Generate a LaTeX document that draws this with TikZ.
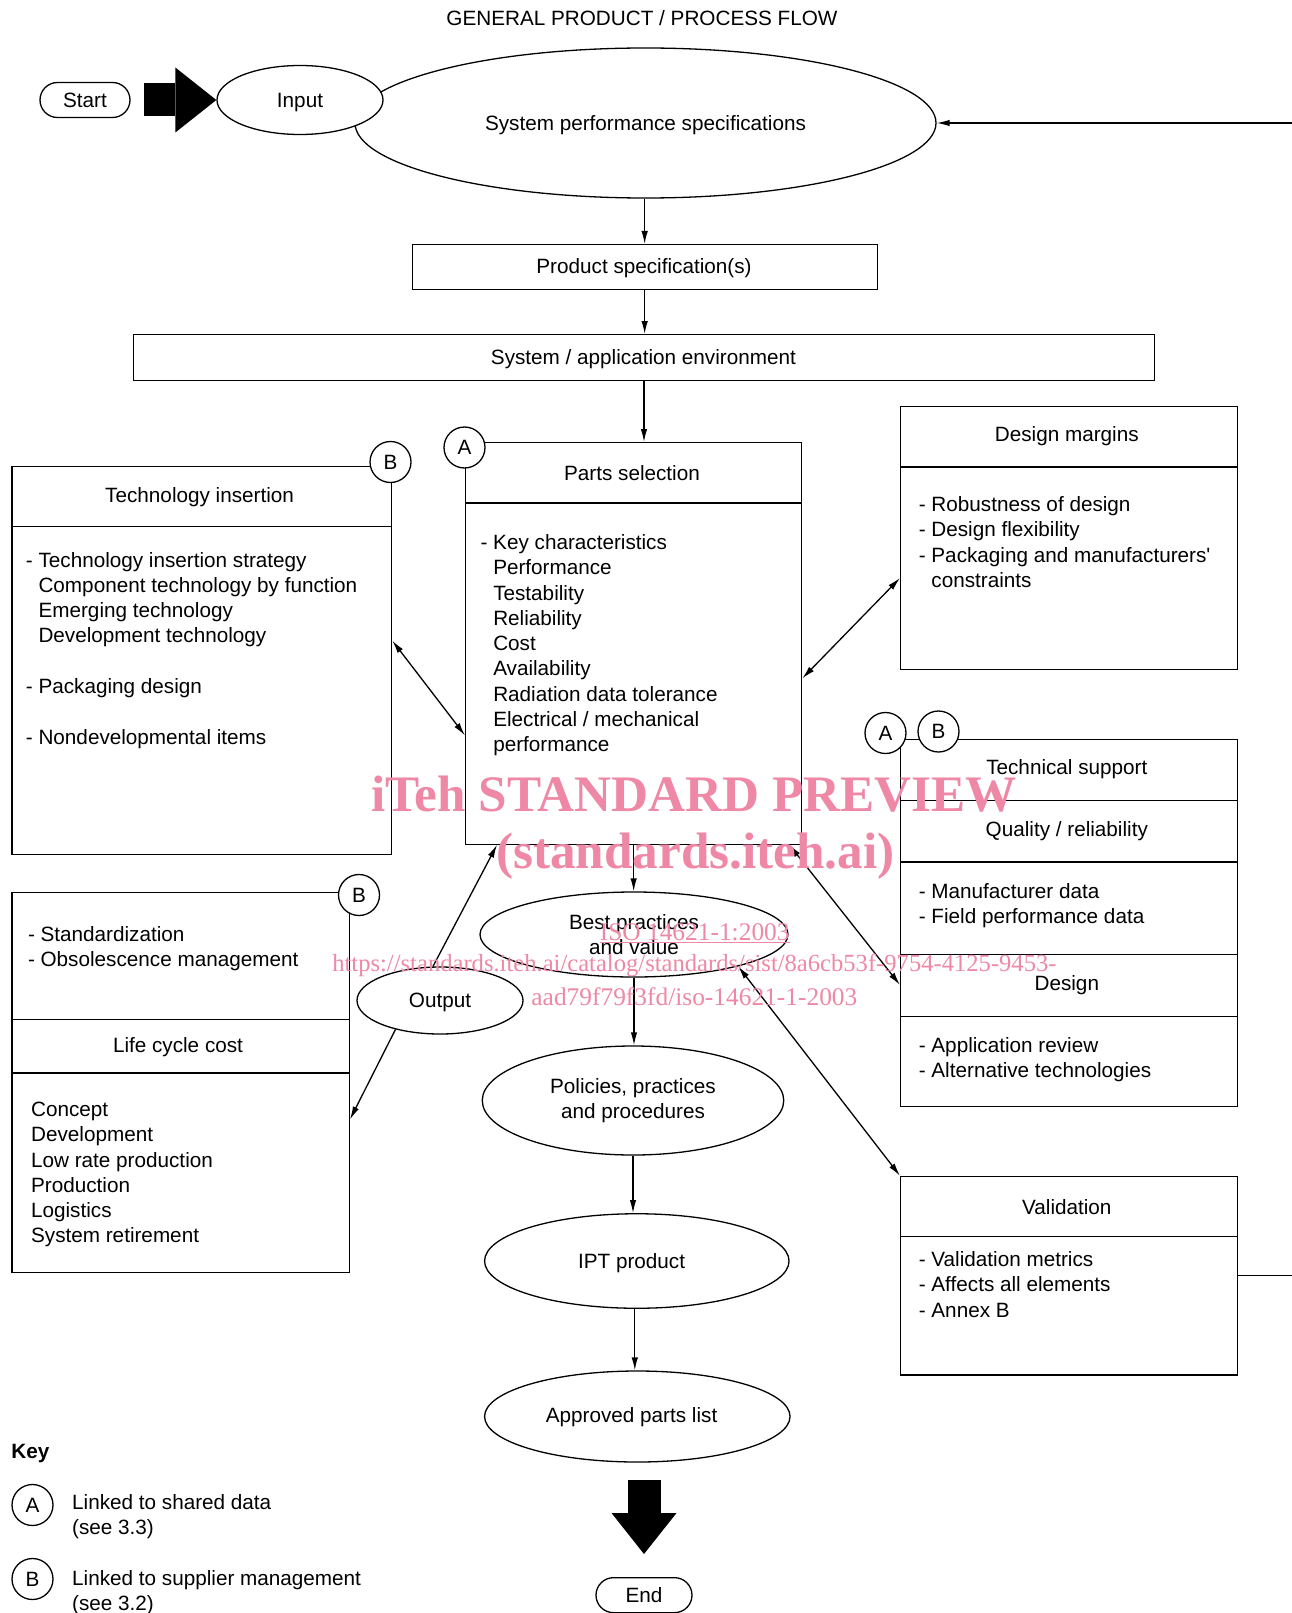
\documentclass[tikz,border=0pt]{standalone}
\usepackage{fontspec}
\setmainfont{Liberation Sans}
\newfontfamily\wmfont{Liberation Serif}
\usetikzlibrary{arrows.meta,shapes.geometric,calc}
\definecolor{wmpink}{RGB}{238,136,166}
\newcommand\myind{\hphantom{-\ }}
\newcommand\txtlines[4]{%
  \foreach \t [count=\i] in {#4} {\node[anchor=base west, inner sep=0pt] (#1\i) at (#2, #3+25.3*\i-25.3) {\t};}}
\begin{document}
\begin{tikzpicture}[x=1pt,y=-1pt,
  font=\fontsize{20.7}{25.3}\selectfont,
  every node/.style={inner sep=0pt},
  ln/.style={line width=1.3pt},
  box/.style={draw, line width=1.3pt, rectangle, anchor=north west},
  ell/.style={draw, line width=1.3pt, ellipse, fill=white},
  lbl/.style={text height=14.8pt, text depth=0pt},
  circ/.style={draw, line width=1.3pt, circle, fill=white, minimum size=41pt, text height=14.8pt, text depth=0pt},
  term/.style={draw, line width=1.3pt, rounded corners=17.5pt, minimum height=35pt, text height=14.8pt, text depth=0pt},
  arr/.style={line width=1.3pt, -{Latex[length=13pt,width=6.5pt]}},
  darr/.style={line width=1.3pt, {Latex[length=13pt,width=6.5pt]}-{Latex[length=13pt,width=6.5pt]}},
  big/.style={line width=33pt, -{Triangle[length=41pt,width=65pt,line width=0pt]}},
  wm/.style={text=wmpink, anchor=base}
]
\useasboundingbox[fill=white] (0,0) rectangle (1292,1613);

% title
\node[lbl] (titl) at (642,18) {GENERAL PRODUCT / PROCESS FLOW};

% top flow
\node[term, minimum width=90pt] (start) at (85,100) {Start};
\node[ell, lbl, minimum width=581pt, minimum height=150pt] (sps) at (645.5,123) {System performance specifications};
\node[ell, lbl, minimum width=166pt, minimum height=69pt] (input) at (300,100) {Input};
\node[box, lbl, minimum width=465pt, minimum height=45pt] (prod) at (411.5,244) {};
\node[lbl] (prodt) at (644,266.5) {Product specification(s)};
\node[box, minimum width=1021.3pt, minimum height=45.6pt] (sys) at (132.7,334) {};
\node[lbl] (syst) at (643.4,356.8) {System / application environment};

% parts selection
\node[box, minimum width=336pt, minimum height=401.5pt] (parts) at (465,442) {};
\draw[ln] (465,503) -- (801,503);
\node[lbl] (partst) at (632,473) {Parts selection};
\txtlines{pl}{480.4}{549.4}{- Key characteristics, \myind Performance, \myind Testability, \myind Reliability, \myind Cost, \myind Availability, \myind Radiation data tolerance, \myind Electrical / mechanical, \myind performance}

% technology insertion
\node[box, minimum width=379.7pt, minimum height=388pt] (tech) at (11.3,466) {};
\draw[ln] (11.3,526.7) -- (391,526.7);
\node[lbl] (techt) at (199.6,494.8) {Technology insertion};
\txtlines{ta}{25.7}{567}{- Technology insertion strategy, \myind Component technology by function, \myind Emerging technology, \myind Development technology}
\txtlines{tb}{25.7}{693.5}{- Packaging design}
\txtlines{tc}{25.7}{744.1}{- Nondevelopmental items}

% design margins
\node[box, minimum width=336.5pt, minimum height=262.7pt] (dm) at (900,406) {};
\draw[ln] (900,467) -- (1236.5,467);
\node[lbl] (dmt) at (1066.8,434) {Design margins};
\txtlines{dl}{918.6}{511.4}{- Robustness of design, - Design flexibility, - Packaging and manufacturers\textquotesingle, \myind constraints}

% technical support
\node[box, minimum width=336.5pt, minimum height=367.4pt] (ts) at (900,738.6) {};
\draw[ln] (900,800.3) -- (1236.5,800.3);
\draw[ln] (900,862) -- (1236.5,862);
\draw[ln] (900,954.6) -- (1236.5,954.6);
\draw[ln] (900,1016.4) -- (1236.5,1016.4);
\node[lbl] (tst1) at (1066.8,767.4) {Technical support};
\node[lbl] (tst2) at (1066.8,829) {Quality / reliability};
\node[lbl] (tst3) at (1066.8,983.4) {Design};
\txtlines{sa}{918.6}{898.4}{- Manufacturer data, - Field performance data}
\txtlines{sb}{918.6}{1052.4}{- Application review, - Alternative technologies}

% validation
\node[box, minimum width=336.5pt, minimum height=198.5pt] (val) at (900,1175.8) {};
\draw[ln] (900,1236.5) -- (1236.5,1236.5);
\node[lbl] (valt) at (1066.8,1206.7) {Validation};
\txtlines{vl}{918.6}{1266.4}{- Validation metrics, - Affects all elements, - Annex B}

% life cycle
\node[box, minimum width=337.4pt, minimum height=379.5pt] (life) at (11.3,892) {};
\draw[ln] (11.3,1019.5) -- (348.7,1019.5);
\draw[ln] (11.3,1073) -- (348.7,1073);
\node[lbl] (lifet) at (178,1045) {Life cycle cost};
\txtlines{la}{27.8}{941.4}{- Standardization, - Obsolescence management}
\txtlines{lb}{30.9}{1116.4}{Concept, Development, Low rate production, Production, Logistics, System retirement}

% central ellipses
\node[ell, minimum width=308pt, minimum height=85pt, align=center] (best) at (634,934.5) {Best practices\\and value};
\node[ell, minimum width=301.5pt, minimum height=109pt, align=center] (pol) at (633,1100.5) {Policies, practices\\and procedures};
\node[ell, minimum width=304.5pt, minimum height=94.5pt] (ipt) at (636.8,1261) {};
\node[lbl] (iptt) at (631.6,1261) {IPT product};
\node[ell, minimum width=305.5pt, minimum height=91pt] (appr) at (637.3,1416.5) {};
\node[lbl] (apprt) at (631.6,1415.5) {Approved parts list};
\node[ell, lbl, minimum width=166pt, minimum height=67pt] (output) at (440,1000.5) {Output};
\node[term, minimum width=96pt, anchor=north] (endn) at (644,1577) {End};

% connectors
\draw[big, shorten <=13pt] (start.east) -- (input.west |- start.east);
\draw[arr] (prod.north |- sps.south) -- (prod.north);
\draw[arr] (prod.south) -- (prod.south |- sys.north);
\draw[arr] (sys.south) -- (sys.south |- parts.north);
\draw[arr] (parts.south) -- (parts.south |- best.north);
\draw[arr] (best.south) -- (best.south |- pol.north);
\draw[arr] (pol.south) -- (pol.south |- ipt.north);
\draw[arr] ([xshift=-2pt]ipt.south) -- ([xshift=-2pt]ipt.south |- appr.north);
\draw[big, shorten <=17pt, shorten >=23pt] (endn.north |- appr.south) -- (endn.north);
\draw[darr] ([yshift=20pt]tech.east) -- ([yshift=-92pt]parts.west);
\draw[darr] ([yshift=-35pt]parts.east) -- ([yshift=-40pt]dm.west);
\draw[darr] ([xshift=-13pt]parts.south east) -- ([yshift=-62pt]ts.west);
\draw[darr] (best.-17) -- (val.north west);
\draw[arr] ([xshift=-7pt]output.north) -- ([xshift=32pt]parts.south west);
\draw[arr] (output.213) -- ([yshift=-37pt]life.east);
\coordinate (fb) at (1320,0);
\draw[arr] (val.east) -- (val.east -| fb) -- (sps.east -| fb) -- (sps.east);

% link circles
\node[circ] (cA1) at (464.5,447.5) {A};
\node[circ] (cB1) at (390.5,462) {B};
\node[circ] (cB2) at (359,895) {B};
\node[circ] (cA2) at (885.5,733) {A};
\node[circ] (cB3) at (938.5,731.5) {B};

% key
\node[anchor=base west] (key) at (11.3,1458) {\bfseries Key};
\node[circ] (kA) at (32.5,1505) {A};
\node[circ] (kB) at (32.5,1579) {B};
\txtlines{ka}{72}{1509}{Linked to shared data, (see 3.3)}
\txtlines{kb}{72}{1585}{Linked to supplier management, (see 3.2)}

% watermark
\node[wm, font=\wmfont\bfseries\fontsize{51.2}{60}\selectfont] (wm1) at (694,811) {iTeh STANDARD PREVIEW};
\node[wm, font=\wmfont\bfseries\fontsize{51.2}{60}\selectfont] (wm2) at (695.5,868) {(standards.iteh.ai)};
\node[wm, font=\wmfont\fontsize{25.4}{30}\selectfont] (wm3) at (694.7,940) {\underline{ISO 14621-1:2003}};
\node[wm, font=\wmfont\fontsize{24.6}{30}\selectfont] (wm4) at (694.4,971.7) {https://standards.iteh.ai/catalog/standards/sist/8a6cb53f-9754-4125-9453-};
\node[wm, font=\wmfont\fontsize{25.4}{30}\selectfont] (wm5) at (694.4,1005) {aad79f79f3fd/iso-14621-1-2003};
\end{tikzpicture}
\end{document}
